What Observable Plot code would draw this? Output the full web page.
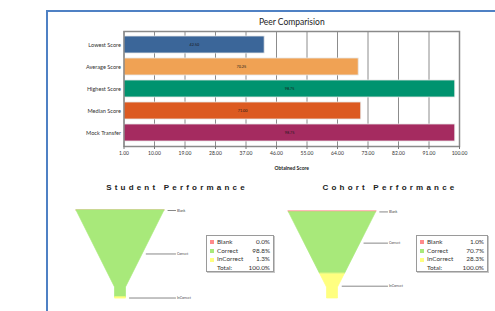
<!DOCTYPE html>
<html>
<head>
<meta charset="utf-8">
<script src="https://cdn.jsdelivr.net/npm/d3@7"></script>
<script src="https://cdn.jsdelivr.net/npm/@observablehq/plot@0.6"></script>
<style>
  html, body { margin: 0; padding: 0; background: #fff; }
  #wrap { position: relative; width: 495px; height: 311px; overflow: hidden; background: #fff; font-family: Lato, "Open Sans", sans-serif; }
  #frame { position: absolute; left: 46px; top: 10px; width: 460px; height: 320px; border-left: 2px solid #4f81c4; border-top: 2px solid #4f81c4; }
  .ftitle { position: absolute; font-family: "Liberation Sans", Arial, sans-serif; font-weight: bold; font-size: 8px; letter-spacing: 3.2px; color: #222; white-space: nowrap; transform: translateX(-50%); }
  .legend { position: absolute; border: 1px solid #9a9a9a; box-shadow: 1px 1px 0 #c8c8c8; background: #fff; font-family: Lato, sans-serif; font-size: 6.4px; color: #333; padding: 2px 3px; box-sizing: border-box; }
  .legend table { border-collapse: collapse; width: 100%; }
  .legend td { padding: 0; height: 8.6px; line-height: 8.6px; white-space: nowrap; }
  .legend td.v { text-align: right; }
  .sw { display: inline-block; width: 4px; height: 4px; margin-right: 3px; vertical-align: middle; }
</style>
</head>
<body>
<div id="wrap">
  <div id="frame"></div>
</div>
<script>
// ---- Data ----
const categories = ["Lowest Score", "Average Score", "Highest Score", "Median Score", "Mock Transfer"];
const scores = [42.50, 70.25, 98.75, 71.00, 98.75];
const barColors = ["#3b6699", "#f0a254", "#00936f", "#dc5a21", "#a52b60"];
const xTicks = [1, 10, 19, 28, 37, 46, 55, 64, 73, 82, 91, 100];

const segments = ["Blank", "Correct", "InCorrect"];
const segColors = ["#ff8a8a", "#a8e97a", "#ffff80"];
const studentValues = [0.0, 98.8, 1.3];
const cohortValues = [1.0, 70.7, 28.3];
const studentTotal = 100.0;
const cohortTotal = 100.0;

const wrap = document.getElementById("wrap");

// ---- Bar chart ----
const barData = categories.map((c, i) => ({cat: c, value: scores[i]}));
const fmt = d => d.toFixed(2);
const bar = Plot.plot({
  width: 495, height: 170,
  marginLeft: 123.5, marginRight: 36, marginTop: 31, marginBottom: 24,
  style: {fontFamily: "Lato, sans-serif", background: "transparent", color: "#333"},
  x: {domain: [1, 100]},
  y: {domain: categories, padding: 0.22},
  color: {domain: categories, range: barColors},
  marks: [
    Plot.gridX(xTicks, {stroke: "#6f6f6f", strokeOpacity: 1, strokeWidth: 0.8}),
    Plot.barX(barData, {x1: 1, x2: "value", y: "cat", fill: "cat", stroke: "#e6e6e6", strokeWidth: 0.8}),
    Plot.text(barData, {x: d => (1 + d.value) / 2, y: "cat", text: d => fmt(d.value), fontSize: 3.8, fill: "#1a1a1a"}),
    Plot.frame({stroke: "#8a8a8a", strokeWidth: 1.5}),
    Plot.axisX({ticks: xTicks, tickFormat: fmt, tickSize: 3, tickPadding: 2, fontSize: 5, label: null, stroke: "#777"}),
    Plot.axisY({tickSize: 0, tickPadding: 3, fontSize: 5.6, label: null}),
    Plot.text(["Peer Comparision"], {frameAnchor: "top", dy: -13, fontSize: 8.5, fill: "#222"}),
    Plot.text(["Obtained Score"], {frameAnchor: "bottom", dy: 23, fontSize: 5, fontWeight: "bold", fill: "#222"})
  ]
});
bar.style.position = "absolute"; bar.style.left = "0px"; bar.style.top = "0px";
wrap.appendChild(bar);

// ---- Funnels ----
const TOP_HALF = 1;          // half width at top (domain units)
const NECK_HALF = 0.125;     // half width of the neck
const NECK_T = 87.4;         // cumulative % where the neck begins
const hw = t => t < NECK_T ? TOP_HALF - (TOP_HALF - NECK_HALF) * t / NECK_T : NECK_HALF;

function funnel(values, opts) {
  let cum = 0;
  const pts = [], leaders = [];
  values.forEach((v, i) => {
    const t0 = cum, t1 = cum + v; cum = t1;
    const ts = [t0];
    if (t0 < NECK_T && t1 > NECK_T) ts.push(NECK_T);
    ts.push(t1);
    ts.forEach(t => pts.push({seg: segments[i], t, l: -hw(t), r: hw(t)}));
    const tm = (t0 + t1) / 2;
    leaders.push({seg: segments[i], t: tm, x1: hw(tm) + 0.07, x2: 1.26});
  });
  const p = Plot.plot({
    width: opts.width, height: opts.height,
    style: {fontFamily: "Lato, sans-serif", background: "transparent"},
    x: {domain: [-1, 1], range: [opts.cx - 44, opts.cx + 44], axis: null},
    y: {domain: [0, 100], range: [opts.top, opts.bottom], axis: null},
    color: {domain: segments, range: segColors},
    marks: [
      Plot.areaX(pts, {y: "t", x1: "l", x2: "r", z: "seg", fill: "seg", stroke: "seg", strokeWidth: 0.7, curve: "linear"}),
      Plot.link(leaders, {x1: "x1", x2: "x2", y1: "t", y2: "t", stroke: "#6a6a6a", strokeWidth: 0.8}),
      Plot.text(leaders, {x: "x2", y: "t", text: "seg", textAnchor: "start", dx: 1, fontSize: 3.4, fill: "#444"})
    ]
  });
  p.style.position = "absolute"; p.style.left = opts.left + "px"; p.style.top = opts.top0 + "px";
  wrap.appendChild(p);
}

funnel(studentValues, {left: 40, top0: 180, width: 200, height: 125, cx: 80, top: 30, bottom: 118});
funnel(cohortValues, {left: 255, top0: 180, width: 200, height: 125, cx: 77, top: 31, bottom: 118});

// ---- Titles ----
function title(text, cx, cy) {
  const d = document.createElement("div");
  d.className = "ftitle"; d.textContent = text;
  d.style.left = cx + "px"; d.style.top = (cy - 5) + "px";
  wrap.appendChild(d);
}
title("Student Performance", 177, 188);
title("Cohort Performance", 390, 188);

// ---- Legends ----
function legend(values, total, left, top, width, height) {
  const d = document.createElement("div");
  d.className = "legend";
  d.style.left = left + "px"; d.style.top = top + "px";
  d.style.width = width + "px"; d.style.height = height + "px";
  let html = "<table>";
  segments.forEach((s, i) => {
    html += `<tr><td><span class="sw" style="background:${segColors[i]}"></span>${s}</td><td class="v">${values[i].toFixed(1)}%</td></tr>`;
  });
  html += `<tr><td><span class="sw"></span>Total:</td><td class="v">${total.toFixed(1)}%</td></tr></table>`;
  d.innerHTML = html;
  wrap.appendChild(d);
}
legend(studentValues, studentTotal, 206, 235, 68, 37);
legend(cohortValues, cohortTotal, 416, 235, 72, 37);
</script>
</body>
</html>
